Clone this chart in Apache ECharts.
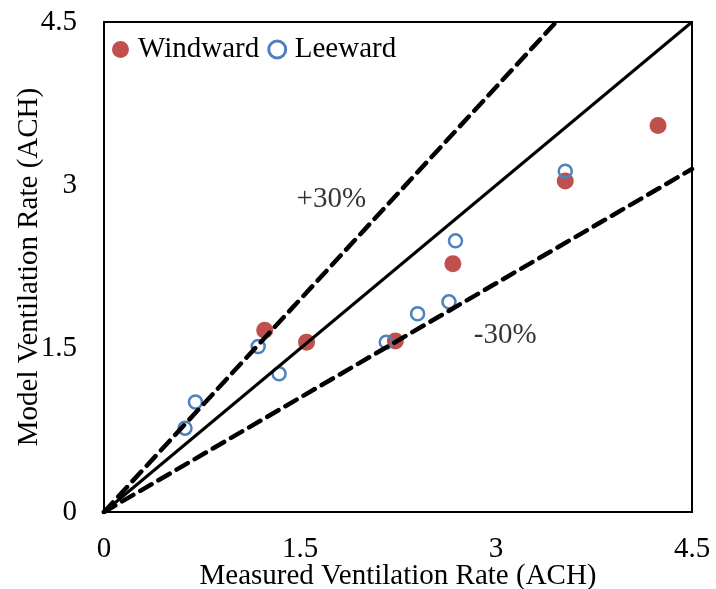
<!DOCTYPE html>
<html>
<head>
<meta charset="utf-8">
<script src="https://cdn.jsdelivr.net/npm/echarts@6/dist/echarts.min.js"></script>
<style>
  html, body { margin: 0; padding: 0; background: #fff; }
  #chart { width: 716px; height: 589px; }
</style>
</head>
<body>
<div id="chart"></div>
<script>
// measured vs model ventilation rate (ACH)
const windward = [
    [1.23, 1.67], [1.55, 1.56], [2.23, 1.57],
    [2.67, 2.28], [3.53, 3.04], [4.24, 3.55]
];
const leeward = [
    [0.62, 0.77], [0.70, 1.01], [1.18, 1.52], [1.34, 1.27], [2.16, 1.56],
    [2.40, 1.82], [2.64, 1.93], [2.69, 2.49], [3.53, 3.13]
];
const oneToOne = [[0, 0], [4.5, 4.5]];
const plus30 = [[0, 0], [3.46, 4.5]];
const minus30 = [[0, 0], [4.5, 3.15]];
const annotations = [[1.74, 2.87, "+30%"], [3.07, 1.62, "-30%"]];
const ticks = [0, 1.5, 3, 4.5];

const FONT = "Liberation Serif";
const FS = 29;
const chart = echarts.init(document.getElementById("chart"));

const axisBase = {
    type: "value",
    min: 0,
    max: 4.5,
    interval: 1.5,
    splitLine: { show: false },
    axisTick: { show: false },
    axisLine: { show: true, lineStyle: { color: "#000", width: 2 } },
    axisLabel: {
        color: "#000", fontFamily: FONT, fontSize: FS,
        formatter: v => ticks.includes(v) ? String(v) : ""
    },
    nameLocation: "middle",
    nameMoveOverlap: false,
    nameTextStyle: { color: "#000", fontFamily: FONT, fontSize: FS }
};

chart.setOption({
    animation: false,
    grid: {
        left: 104, right: 24, top: 22, bottom: 77,
        containLabel: false, outerBoundsMode: "none",
        show: true, borderColor: "#000", borderWidth: 2
    },
    legend: {
        left: 107, top: 30,
        itemGap: 8, itemWidth: 17, itemHeight: 17,
        textStyle: { color: "#000", fontFamily: FONT, fontSize: FS, padding: [0, 0, 0, 4] },
        data: [
            { name: "Windward", icon: "circle" },
            { name: "Leeward", icon: "circle", itemStyle: { borderWidth: 3 } }
        ]
    },
    xAxis: Object.assign({}, axisBase, {
        name: "Measured Ventilation Rate (ACH)",
        nameGap: 50,
        axisLabel: Object.assign({}, axisBase.axisLabel, { margin: 23 })
    }),
    yAxis: Object.assign({}, axisBase, {
        name: "Model Ventilation Rate (ACH)",
        nameGap: 60,
        axisLabel: Object.assign({}, axisBase.axisLabel, { margin: 27 })
    }),
    series: [
        {
            type: "line", data: oneToOne, symbol: "none", silent: true,
            lineStyle: { color: "#000", width: 3 }
        },
        {
            type: "line", data: plus30, symbol: "none", silent: true,
            lineStyle: { color: "#000", width: 4.5, type: [13, 8], cap: "round" }
        },
        {
            type: "line", data: minus30, symbol: "none", silent: true,
            lineStyle: { color: "#000", width: 4.5, type: [13, 8], cap: "round" }
        },
        {
            name: "Windward", type: "scatter", data: windward,
            symbol: "circle", symbolSize: 17,
            itemStyle: { color: "#c0504d", opacity: 1 }
        },
        {
            name: "Leeward", type: "scatter", data: leeward,
            symbol: "circle", symbolSize: 13,
            itemStyle: { color: "rgba(255,255,255,0)", borderColor: "#4f81bd", borderWidth: 2.5, opacity: 1 }
        },
        {
            type: "scatter", data: annotations, symbolSize: 0, silent: true,
            label: {
                show: true, position: "inside", color: "#000",
                fontFamily: FONT, fontSize: FS,
                formatter: p => p.value[2]
            }
        }
    ]
});
</script>
</body>
</html>
